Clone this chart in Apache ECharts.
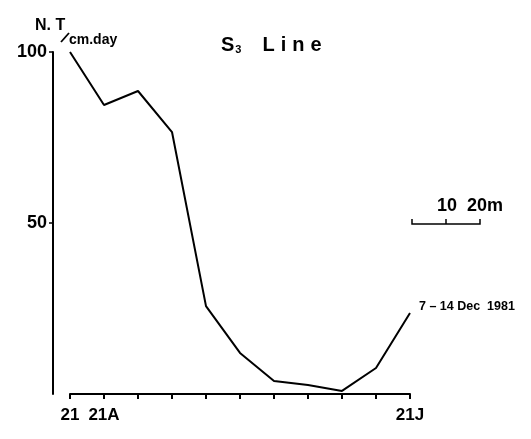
<!DOCTYPE html>
<html><head><meta charset="utf-8">
<script src="https://cdn.jsdelivr.net/npm/echarts@6/dist/echarts.min.js"></script>
<style>html,body{margin:0;padding:0;background:#fff}#c{width:531px;height:439px}</style>
</head><body><div id="c"></div>
<script>
const categories = ['21','21A','','','','','','','','','21J'];
const ntValues = [100, 84.5, 88.6, 76.6, 25.7, 12.0, 3.8, 2.6, 0.9, 7.6, 23.7];
const yTicks = [50, 100];
const FONT = 'Liberation Sans';
const chart = echarts.init(document.getElementById('c'), null, {renderer:'canvas'});
const big = {fontFamily:FONT, fontWeight:'bold', fontSize:20, color:'#000'};
chart.setOption({
  backgroundColor:'#fff',
  animation:false,
  grid:{left:70, right:121, top:52, bottom:45},
  xAxis:{type:'category', data:categories, boundaryGap:false,
    axisLine:{lineStyle:{color:'#000', width:2}},
    axisTick:{show:true, inside:false, length:5, alignWithLabel:true, interval:0, lineStyle:{color:'#000', width:2}},
    axisLabel:{interval:0, margin:13, color:'#000', fontFamily:FONT, fontWeight:'bold', fontSize:17},
    splitLine:{show:false}},
  yAxis:{type:'value', min:0, max:100, interval:50, offset:17,
    axisLine:{show:true, lineStyle:{color:'#000', width:2}},
    axisTick:{show:true, length:4, customValues:yTicks, lineStyle:{color:'#000', width:1.5}},
    axisLabel:{customValues:yTicks, margin:6, color:'#000', fontFamily:FONT, fontWeight:'bold', fontSize:18},
    splitLine:{show:false}},
  title:{text:'{s|S}{sub|3}{l|L}{c|i}{c|n}{c|e}', left:216, top:30,
    textStyle:{rich:{
      s:big,
      l:Object.assign({}, big, {padding:[0,0,0,21]}),
      c:Object.assign({}, big, {padding:[0,0,0,6]}),
      sub:{fontFamily:FONT, fontWeight:'bold', fontSize:11, color:'#000', verticalAlign:'bottom', padding:[8,0,0,1]}}}},
  graphic:[
    {type:'text', left:35, top:18, style:{text:'N. T', font:'bold 16px '+FONT, fill:'#000'}},
    {type:'line', shape:{x1:61, y1:42, x2:69, y2:33}, style:{stroke:'#000', lineWidth:1.8}},
    {type:'text', left:69, top:33, style:{text:'cm.day', font:'bold 14px '+FONT, fill:'#000'}},
    {type:'text', left:437, top:197, style:{text:'10  20m', font:'bold 18px '+FONT, fill:'#000'}},
    {type:'polyline', shape:{points:[[412,219],[412,224],[480,224],[480,219]]}, style:{stroke:'#000', lineWidth:1.5, fill:null}},
    {type:'line', shape:{x1:446, y1:219, x2:446, y2:224}, style:{stroke:'#000', lineWidth:1.5}},
    {type:'text', left:419, top:300, style:{text:'7 – 14 Dec  1981', font:'bold 12.5px '+FONT, fill:'#000'}}
  ],
  series:[{type:'line', data:ntValues, symbol:'none', lineStyle:{color:'#000', width:2}}]
});
</script></body></html>
